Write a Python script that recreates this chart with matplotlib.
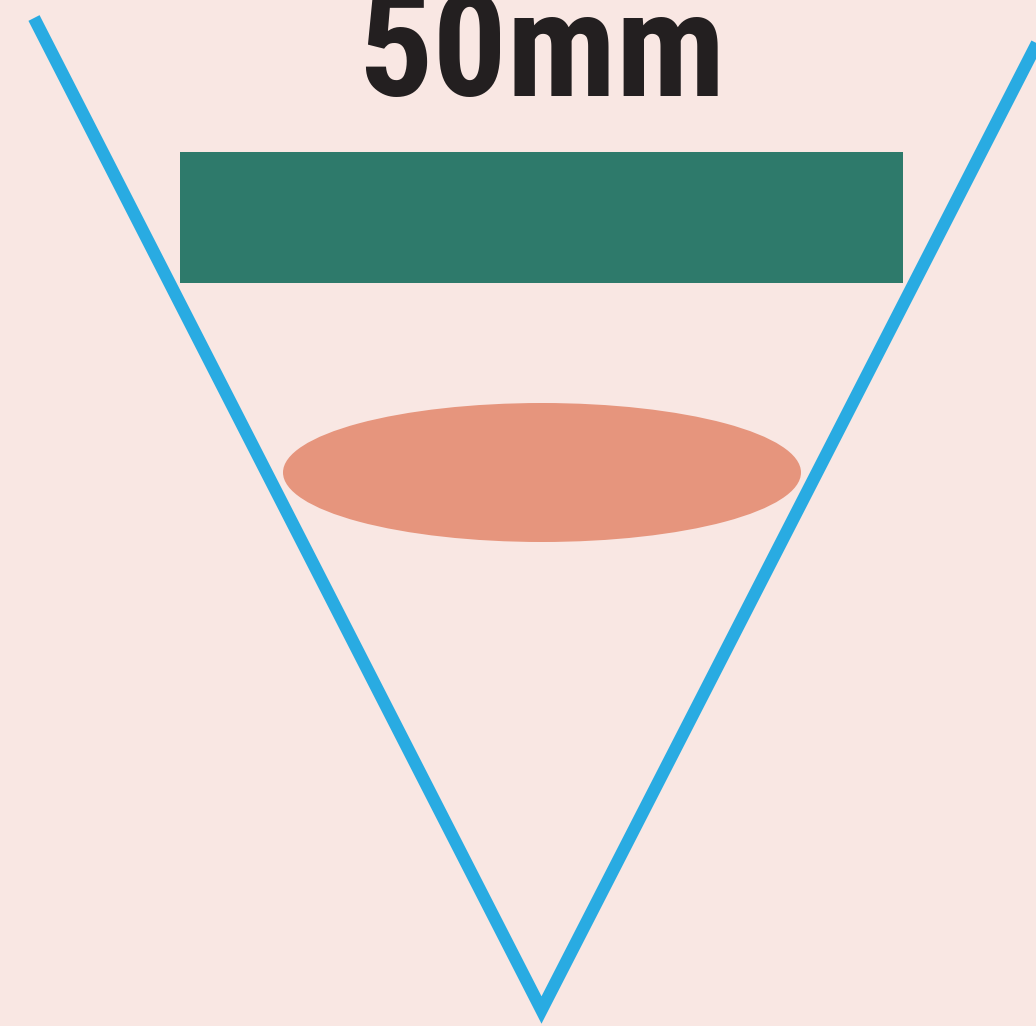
import matplotlib.pyplot as plt
from matplotlib.patches import Rectangle, Ellipse

# 畫面座標 (像素, y 向下)
W, H = 1036, 1026

# 標籤
label = "50mm"

# 漏斗的 V 形線
v_x = [34, 541.5, 1050]
v_y = [18, 1010, 18]

# 綠色長條 (左, 上, 寬, 高)
bar_box = [180, 152, 723, 131]

# 橘色橢圓 (中心 x, 中心 y, 寬, 高)
oval = [542, 472.5, 518, 139]

bg_color = '#F9E7E3'
blue = '#29ABE2'
green = '#2E7A6B'
salmon = '#E6957D'
text_color = '#231F20'

fig = plt.figure(figsize=(W / 100, H / 100), dpi=100)
fig.patch.set_facecolor(bg_color)
ax = fig.add_axes([0, 0, 1, 1])
ax.set_facecolor(bg_color)
ax.set_xlim(0, W)
ax.set_ylim(H, 0)
ax.axis('off')

# 長條
ax.add_patch(Rectangle((bar_box[0], bar_box[1]), bar_box[2], bar_box[3],
                       facecolor=green, edgecolor='none', zorder=2))

# 橢圓
ax.add_patch(Ellipse((oval[0], oval[1]), oval[2], oval[3],
                     facecolor=salmon, edgecolor='none', zorder=2))

# V 線
ax.plot(v_x, v_y, color=blue, linewidth=9, solid_joinstyle='miter',
        solid_capstyle='butt', zorder=3)

# 標題文字 (窄體)
ax.text(542, 96, label, ha='center', va='baseline', fontsize=106,
        fontweight='bold', fontstretch='condensed', color=text_color,
        family=['Roboto Condensed', 'Open Sans Condensed', 'DejaVu Sans'],
        zorder=4)

plt.savefig('out.png', dpi=100, facecolor=bg_color)
